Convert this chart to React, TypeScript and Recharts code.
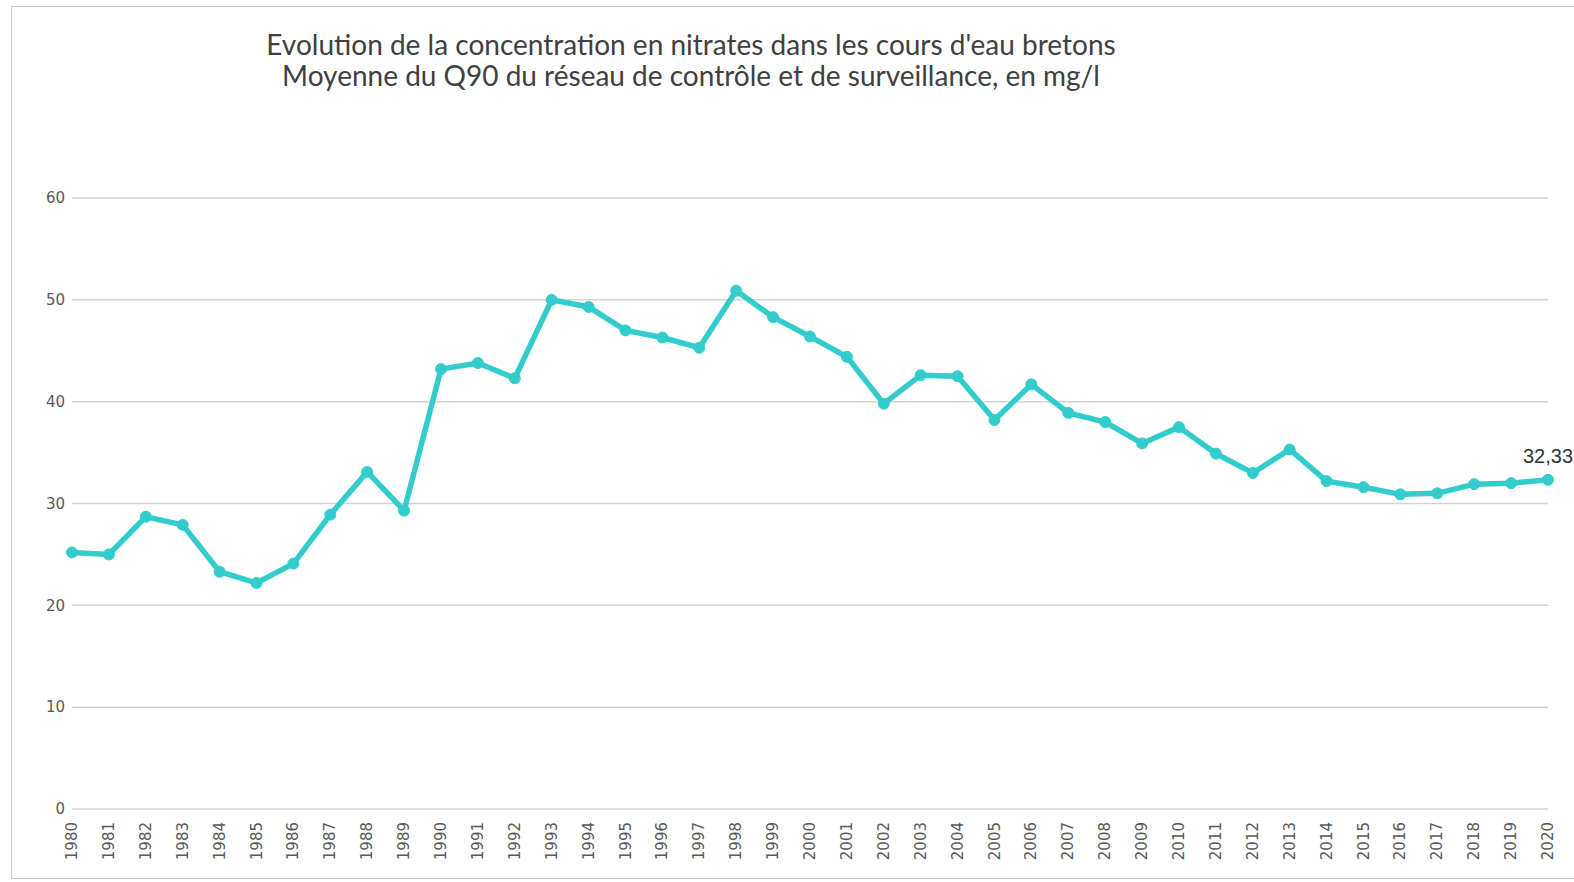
import { CartesianGrid, LabelList, Line, LineChart, XAxis, YAxis } from "recharts";

const years = [
  "1980", "1981", "1982", "1983", "1984", "1985", "1986", "1987", "1988", "1989",
  "1990", "1991", "1992", "1993", "1994", "1995", "1996", "1997", "1998", "1999",
  "2000", "2001", "2002", "2003", "2004", "2005", "2006", "2007", "2008", "2009",
  "2010", "2011", "2012", "2013", "2014", "2015", "2016", "2017", "2018", "2019",
  "2020",
];
const q90 = [
  25.2, 25.0, 28.7, 27.9, 23.3, 22.2, 24.1, 28.9, 33.1, 29.3,
  43.2, 43.8, 42.3, 50.0, 49.3, 47.0, 46.3, 45.3, 50.9, 48.3,
  46.4, 44.4, 39.8, 42.6, 42.5, 38.2, 41.7, 38.9, 38.0, 35.9,
  37.5, 34.9, 33.0, 35.3, 32.2, 31.6, 30.9, 31.0, 31.9, 32.0,
  32.33,
];
const yTicks = [0, 10, 20, 30, 40, 50, 60];

const data = years.map((y, i) => ({ year: y, value: q90[i] }));

const TEAL = "#33CCCC";
const TICK = { fontSize: 15, fill: "#595959", fontFamily: "DejaVu Sans" };

function YearTick({ x, y, payload }: any) {
  return (
    <text
      x={x}
      y={y}
      transform={`rotate(-90, ${x}, ${y})`}
      dx={-5}
      dy={5}
      textAnchor="end"
      {...TICK}
    >
      {payload.value}
    </text>
  );
}

// seule la dernière valeur porte une étiquette
function LastLabel({ x, y, index, value }: any) {
  if (index !== years.length - 1) return null;
  return (
    <text x={x} y={y - 17} textAnchor="middle" fontSize={20} fill="#333" fontFamily="Liberation Sans">
      {String(value).replace(".", ",")}
    </text>
  );
}

export default function App() {
  return (
    <div style={{ position: "fixed", left: 0, top: 0, width: 1574, height: 882, background: "#fff", overflow: "hidden" }}>
      <div style={{ position: "absolute", left: 11, top: 6, width: 1600, height: 871, border: "1px solid #c8c8c8" }} />
      <div
        style={{
          position: "absolute",
          left: 0,
          width: 1382,
          top: 29,
          textAlign: "center",
          fontFamily: "Lato",
          fontSize: 28,
          lineHeight: "31px",
          color: "#404040",
        }}
      >
        <div>Evolution de la concentration en nitrates dans les cours d'eau bretons</div>
        <div>Moyenne du Q90 du réseau de contrôle et de surveillance, en mg/l</div>
      </div>
      <LineChart
        width={1574}
        height={882}
        data={data}
        margin={{ top: 198, right: 26, bottom: 0, left: 0 }}
        style={{ position: "absolute", left: 0, top: 0 }}
      >
        <CartesianGrid vertical={false} stroke="#d4d4d4" strokeWidth={1.5} />
        <XAxis
          dataKey="year"
          interval={0}
          height={73}
          tickLine={false}
          axisLine={false}
          tick={<YearTick />}
        />
        <YAxis
          domain={[0, 60]}
          ticks={yTicks}
          width={72}
          tickLine={false}
          axisLine={false}
          tick={TICK}
          tickMargin={1}
        />
        <Line
          type="linear"
          dataKey="value"
          stroke={TEAL}
          strokeWidth={5.5}
          dot={{ r: 5.5, fill: TEAL, stroke: TEAL, strokeWidth: 1 }}
          isAnimationActive={false}
        >
          <LabelList dataKey="value" content={<LastLabel />} />
        </Line>
      </LineChart>
    </div>
  );
}
